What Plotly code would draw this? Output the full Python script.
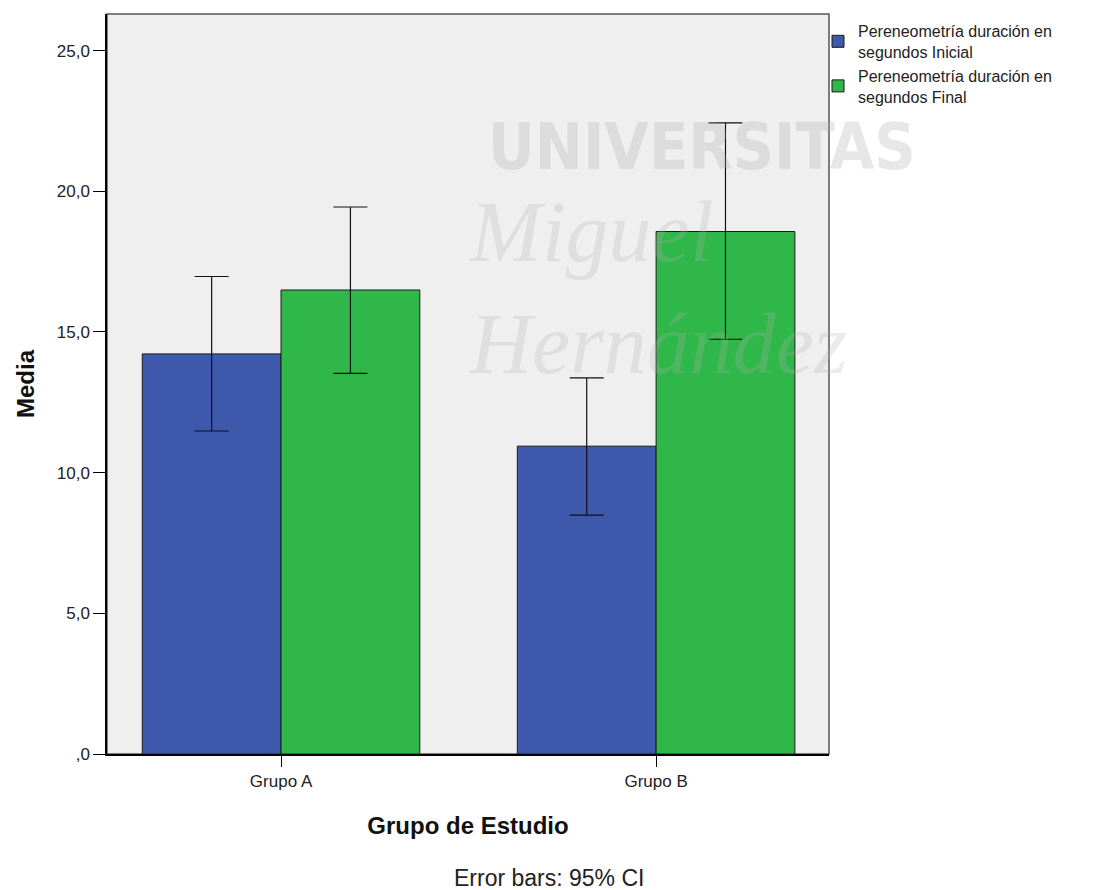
import plotly.graph_objects as go

# Group means and 95% CI bounds (seconds)
grupos = ["Grupo A", "Grupo B"]
media_inicial = [14.22, 10.94]
ic_sup_inicial = [16.97, 13.37]
ic_inf_inicial = [11.48, 8.49]
media_final = [16.49, 18.57]
ic_sup_final = [19.44, 22.43]
ic_inf_final = [13.53, 14.74]

y_ticks = [0, 5, 10, 15, 20, 25]
y_tick_labels = [",0", "5,0", "10,0", "15,0", "20,0", "25,0"]

serie_inicial = "Pereneometría duración en<br>segundos Inicial"
serie_final = "Pereneometría duración en<br>segundos Final"

AZUL = "#3E58AC"
VERDE = "#2FB74A"
FONT = "Liberation Sans, Arial, sans-serif"

# Plot area in pixels
L, R, T, B = 107, 829, 14, 754
W, H = 1096, 890


def bar_trace(name, means, upper, lower, color):
    return go.Bar(
        name=name,
        x=grupos,
        y=means,
        marker=dict(color=color, line=dict(color="#1a1a1a", width=1)),
        error_y=dict(
            type="data",
            symmetric=False,
            array=[u - m for u, m in zip(upper, means)],
            arrayminus=[m - l for m, l in zip(means, lower)],
            color="#111111",
            thickness=1.2,
            width=17,
        ),
    )


fig = go.Figure()
fig.add_trace(bar_trace(serie_inicial, media_inicial, ic_sup_inicial, ic_inf_inicial, AZUL))
fig.add_trace(bar_trace(serie_final, media_final, ic_sup_final, ic_inf_final, VERDE))

fig.update_layout(
    width=W,
    height=H,
    margin=dict(l=L, r=W - R, t=T, b=H - B),
    paper_bgcolor="white",
    plot_bgcolor="#EFEFEF",
    barmode="group",
    bargap=0.26,
    bargroupgap=0,
    font=dict(family=FONT, size=17, color="#222222"),
    showlegend=True,
    legend=dict(
        x=(818 - L) / (R - L), xanchor="left", y=1.0, yanchor="top",
        font=dict(family=FONT, size=16, color="#222222"),
        bgcolor="rgba(0,0,0,0)",
        tracegroupgap=0,
    ),
    xaxis=dict(
        range=[-0.464, 1.461],
        showline=True, linecolor="black", linewidth=1.5,
        ticks="outside", ticklen=11, tickcolor="black",
        showgrid=False, zeroline=False,
        tickfont=dict(size=17),
        title=dict(text="<b>Grupo de Estudio</b>", font=dict(size=24, color="#111111"), standoff=27),
    ),
    yaxis=dict(
        range=[0, 26.3],
        tickvals=y_ticks, ticktext=y_tick_labels,
        showline=True, linecolor="black", linewidth=1.5,
        ticks="outside", ticklen=12, tickcolor="black",
        showgrid=False, zeroline=False,
        tickfont=dict(size=17),
        title=dict(text="<b>Media</b>", font=dict(size=24, color="#111111"), standoff=15),
    ),
)

# Frame of the plotting area (top and right sides)
fig.add_shape(type="rect", xref="paper", yref="paper", x0=0, y0=0, x1=1, y1=1,
              line=dict(color="#555555", width=1.5), layer="below")


def px_x(x):
    return (x - L) / (R - L)


def px_y(y):
    return (B - y) / (B - T)


# Faint institutional watermark text
fig.add_annotation(x=px_x(702), y=px_y(147), xref="paper", yref="paper", text="<b>UNIVERSITAS</b>",
                   showarrow=False, xanchor="center", yanchor="middle",
                   font=dict(family="DejaVu Sans Condensed, DejaVu Sans, sans-serif", size=64,
                             color="rgba(175,175,175,0.3)"))
fig.add_annotation(x=px_x(466), y=px_y(288), xref="paper", yref="paper",
                   text="<i>Miguel</i><br><i>Hernández</i>", align="left",
                   showarrow=False, xanchor="left", yanchor="middle",
                   font=dict(family="Liberation Serif, Times New Roman, serif", size=86,
                             color="rgba(175,175,175,0.25)"))

# Footnote under the axis title
fig.add_annotation(x=px_x(549), y=px_y(878), xref="paper", yref="paper", text="Error bars: 95% CI",
                   showarrow=False, xanchor="center", yanchor="middle",
                   font=dict(family=FONT, size=23, color="#222222"))

fig.write_html("out.html")
